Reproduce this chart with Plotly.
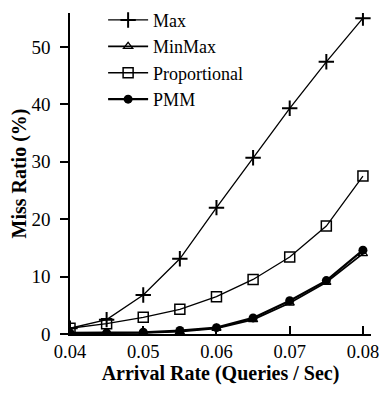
import plotly.graph_objects as go

arrival_rate = [0.04, 0.045, 0.05, 0.055, 0.06, 0.065, 0.07, 0.075, 0.08]
max_vals = [1.0, 2.5, 6.8, 13.1, 22.0, 30.7, 39.3, 47.4, 55.0]
minmax_vals = [0.1, 0.1, 0.2, 0.4, 1.0, 2.5, 5.4, 9.0, 14.0]
prop_vals = [1.0, 1.8, 2.9, 4.3, 6.5, 9.5, 13.4, 18.8, 27.5]
pmm_vals = [0.2, 0.2, 0.3, 0.6, 1.1, 2.8, 5.8, 9.3, 14.6]

x_ticks = [0.04, 0.05, 0.06, 0.07, 0.08]
x_tick_labels = ["0.04", "0.05", "0.06", "0.07", "0.08"]
y_ticks = [0, 10, 20, 30, 40, 50]

FONT = "Liberation Serif"

fig = go.Figure()
fig.add_trace(go.Scatter(x=arrival_rate, y=max_vals, name="Max", mode="lines+markers",
                         line=dict(color="black", width=1.3),
                         marker=dict(symbol="cross-thin", size=11, line=dict(color="black", width=2))))
fig.add_trace(go.Scatter(x=arrival_rate, y=minmax_vals, name="MinMax", mode="lines+markers",
                         line=dict(color="black", width=1.8),
                         marker=dict(symbol="triangle-up-open", size=8, color="black", line=dict(color="black", width=1.3))))
fig.add_trace(go.Scatter(x=arrival_rate, y=prop_vals, name="Proportional", mode="lines+markers",
                         line=dict(color="black", width=1.3),
                         marker=dict(symbol="square-open", size=10, color="black", line=dict(color="black", width=1.5))))
fig.add_trace(go.Scatter(x=arrival_rate, y=pmm_vals, name="PMM", mode="lines+markers",
                         line=dict(color="black", width=2.2),
                         marker=dict(symbol="circle", size=9, color="black")))

fig.update_layout(
    width=373, height=377,
    margin=dict(l=62, r=10, t=5, b=51, autoexpand=False),
    paper_bgcolor="white", plot_bgcolor="white",
    font=dict(family=FONT, size=20, color="black"),
    showlegend=True,
    legend=dict(x=0.11, y=1.035, xanchor="left", yanchor="top", bgcolor="rgba(0,0,0,0)",
                font=dict(family=FONT, size=18), tracegroupgap=0, itemwidth=40),
    xaxis=dict(range=[0.04, 0.0811], tickvals=x_ticks, ticktext=x_tick_labels,
               ticks="inside", ticklen=8, tickwidth=1.5, tickcolor="black",
               showline=True, linecolor="black", linewidth=1.5, showgrid=False, zeroline=False,
               automargin=False, ticklabeloverflow="allow",
               tickfont=dict(family=FONT, size=18.5),
               title=dict(text="<b>Arrival Rate (Queries / Sec)</b>", font=dict(family=FONT, size=20), standoff=6)),
    yaxis=dict(range=[0, 55.9], tickvals=y_ticks,
               ticks="outside", ticklen=8, tickwidth=1.5, tickcolor="black",
               showline=True, linecolor="black", linewidth=1.5, showgrid=False, zeroline=False,
               automargin=False, ticklabelstandoff=6, ticklabeloverflow="allow",
               tickfont=dict(family=FONT, size=19),
               title=dict(text="<b>Miss Ratio (%)</b>", font=dict(family=FONT, size=20), standoff=0)),
)

fig.write_html("out.html")
